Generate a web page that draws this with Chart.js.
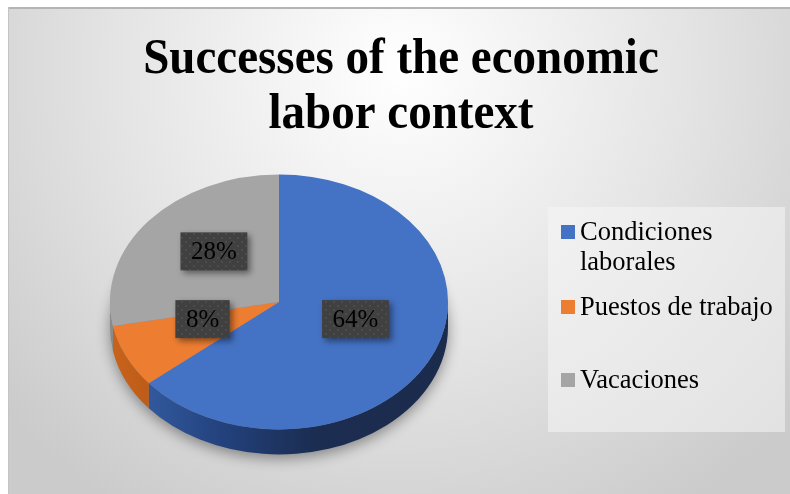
<!DOCTYPE html>
<html lang="en">
<head>
  <meta charset="UTF-8">
  <title>Successes of the economic labor context</title>
  <script src="https://cdn.jsdelivr.net/npm/chart.js"></script>
  <style>
    body {
      margin: 0;
      padding: 0;
      background: #fff;
    }
    #pieChart {
      display: block;
    }
  </style>
</head>
<body>
  <canvas id="pieChart" width="790" height="494"></canvas>

  <script>
    // Chart data
    const titleLines = ['Successes of the economic', 'labor context'];
    const categories = ['Condiciones laborales', 'Puestos de trabajo', 'Vacaciones'];
    const shares = [64, 8, 28];
    const sliceColors = ['#4472c4', '#ed7d31', '#a5a5a5'];

    // look of the 3D pie
    const tilt = 0.754;      // vertical squash of the pie
    const depth = 25;        // thickness of the pie wall in px
    const serif = '"Liberation Serif", "Times New Roman", serif';

    // dotted dark fill used behind the data labels
    function makeDotPattern(ctx) {
      const c = document.createElement('canvas');
      c.width = 8;
      c.height = 8;
      const p = c.getContext('2d');
      p.fillStyle = '#404040';
      p.fillRect(0, 0, 8, 8);
      p.fillStyle = '#4c4c4c';
      p.fillRect(1, 1, 2, 2);
      p.fillRect(5, 5, 2, 2);
      return ctx.createPattern(c, 'repeat');
    }

    function sideFill(ctx, i, cx, r) {
      const g = ctx.createLinearGradient(cx - r, 0, cx + r, 0);
      if (i === 0) {
        g.addColorStop(0, '#3a64ad');
        g.addColorStop(0.35, '#22407a');
        g.addColorStop(0.6, '#1b2d52');
        g.addColorStop(1, '#1b2b4c');
      } else if (i === 1) {
        g.addColorStop(0, '#c8631b');
        g.addColorStop(0.3, '#ad5012');
        g.addColorStop(1, '#9c4610');
      } else {
        g.addColorStop(0, '#8a8a8a');
        g.addColorStop(1, '#6e6e6e');
      }
      return g;
    }

    const pie3d = {
      id: 'pie3d',
      beforeDraw(chart) {
        const ctx = chart.ctx;
        const w = chart.width, h = chart.height;
        ctx.save();
        ctx.fillStyle = '#ffffff';
        ctx.fillRect(0, 0, w, h);
        const bg = ctx.createRadialGradient(400, 70, 0, 400, 70, 520);
        bg.addColorStop(0, '#ffffff');
        bg.addColorStop(0.55, '#e4e4e4');
        bg.addColorStop(1, '#cbcbcb');
        ctx.fillStyle = bg;
        ctx.fillRect(8, 7, w - 8, h - 7);
        ctx.fillStyle = '#b4b4b4';
        ctx.fillRect(8, 7, w - 8, 2);
        ctx.fillStyle = '#c4c4c4';
        ctx.fillRect(8, 7, 1, h - 7);

        // title, slightly condensed like the original
        ctx.fillStyle = '#000';
        ctx.font = 'bold 50px ' + serif;
        ctx.textAlign = 'center';
        ctx.textBaseline = 'alphabetic';
        titleLines.forEach((line, i) => {
          ctx.save();
          ctx.translate(401, 73 + i * 55);
          ctx.scale(0.94, 1);
          ctx.fillText(line, 0, 0);
          ctx.restore();
        });

        // legend box
        ctx.fillStyle = 'rgba(245, 245, 245, 0.55)';
        ctx.fillRect(548, 207, 237, 225);
        ctx.restore();
      },
      beforeDatasetsDraw(chart) {
        const ctx = chart.ctx;
        const arcs = chart.getDatasetMeta(0).data;
        if (!arcs.length) return;
        const cx = arcs[0].x, cy = arcs[0].y, r = arcs[0].outerRadius;
        const ry = r * tilt;

        // soft shadow under the pie (shape drawn off canvas, only its shadow lands here)
        ctx.save();
        ctx.shadowColor = 'rgba(0, 0, 0, 0.4)';
        ctx.shadowBlur = 14;
        ctx.shadowOffsetX = 3000;
        ctx.shadowOffsetY = 4;
        ctx.fillStyle = '#000';
        ctx.beginPath();
        ctx.ellipse(cx - 3000, cy + depth, r, ry, 0, 0, Math.PI * 2);
        ctx.fill();
        ctx.restore();

        // front wall of each slice
        arcs.forEach((arc, i) => {
          const a1 = Math.max(arc.startAngle, 0);
          const a2 = Math.min(arc.endAngle, Math.PI);
          if (a2 <= a1) return;
          ctx.save();
          ctx.fillStyle = sideFill(ctx, i, cx, r);
          ctx.beginPath();
          ctx.ellipse(cx, cy, r, ry, 0, a1, a2);
          ctx.ellipse(cx, cy + depth, r, ry, 0, a2, a1, true);
          ctx.closePath();
          ctx.fill();
          ctx.restore();
        });

        // squash the top faces that Chart.js draws next
        ctx.save();
        ctx.translate(0, cy);
        ctx.scale(1, tilt);
        ctx.translate(0, -cy);
      },
      afterDatasetsDraw(chart) {
        const ctx = chart.ctx;
        ctx.restore();

        const arcs = chart.getDatasetMeta(0).data;
        const values = chart.data.datasets[0].data;
        const total = values.reduce((a, b) => a + b, 0);
        const pattern = makeDotPattern(ctx);

        ctx.save();
        ctx.font = '25px ' + serif;
        ctx.textAlign = 'center';
        ctx.textBaseline = 'middle';
        arcs.forEach((arc, i) => {
          const mid = (arc.startAngle + arc.endAngle) / 2;
          const px = arc.x + Math.cos(mid) * arc.outerRadius * 0.5;
          const py = arc.y + Math.sin(mid) * arc.outerRadius * 0.5 * tilt - 10;
          const text = Math.round(values[i] / total * 100) + '%';
          const bw = ctx.measureText(text).width + 21;
          const bh = 38;
          ctx.save();
          ctx.shadowColor = 'rgba(0, 0, 0, 0.45)';
          ctx.shadowBlur = 6;
          ctx.shadowOffsetX = 3;
          ctx.shadowOffsetY = 3;
          ctx.fillStyle = pattern;
          ctx.fillRect(px - bw / 2, py - bh / 2, bw, bh);
          ctx.restore();
          ctx.fillStyle = '#000';
          ctx.fillText(text, px, py + 1);
        });
        ctx.restore();
      },
      afterDraw(chart) {
        // legend on the right, long names wrap like in the original
        const ctx = chart.ctx;
        const rowY = [232, 307, 380];
        const maxWidth = 200;
        ctx.save();
        ctx.font = '26.5px ' + serif;
        ctx.textAlign = 'left';
        ctx.textBaseline = 'middle';
        chart.data.labels.forEach((label, i) => {
          const y = rowY[i];
          ctx.fillStyle = chart.data.datasets[0].backgroundColor[i];
          ctx.fillRect(561, y - 7, 14, 14);
          ctx.fillStyle = '#000';
          const words = label.split(' ');
          const lines = [];
          let line = '';
          words.forEach(word => {
            const test = line ? line + ' ' + word : word;
            if (ctx.measureText(test).width > maxWidth && line) {
              lines.push(line);
              line = word;
            } else {
              line = test;
            }
          });
          lines.push(line);
          lines.forEach((l, j) => ctx.fillText(l, 580, y + 1 + j * 30));
        });
        ctx.restore();
      }
    };

    const ctx = document.getElementById('pieChart').getContext('2d');
    const pieChart = new Chart(ctx, {
      type: 'pie',
      data: {
        labels: categories,
        datasets: [{
          data: shares,
          backgroundColor: sliceColors,
          borderWidth: 0
        }]
      },
      options: {
        responsive: false,
        animation: false,
        events: [],
        layout: {
          padding: { left: 110, right: 342, top: 133, bottom: 23 }
        },
        plugins: {
          legend: { display: false },
          tooltip: { enabled: false },
          title: { display: false }
        }
      },
      plugins: [pie3d]
    });
  </script>
</body>
</html>
